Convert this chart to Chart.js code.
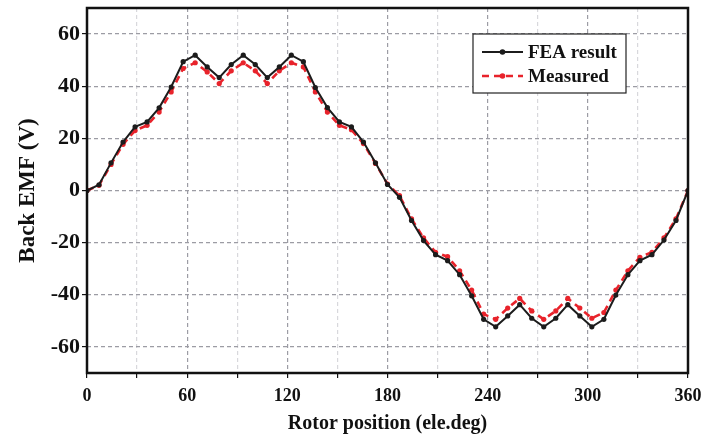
<!DOCTYPE html>
<html>
<head>
<meta charset="utf-8">
<script src="https://cdn.jsdelivr.net/npm/chart.js@4.4.1/dist/chart.umd.min.js"></script>
<style>
  body { margin: 0; background: #fff; }
</style>
</head>
<body>
<canvas id="emfChart" width="702" height="437"></canvas>
<script>
// rotor position, ele.deg
const rotorPos = [0, 7.2, 14.4, 21.6, 28.8, 36, 43.2, 50.4, 57.6, 64.8,
  72, 79.2, 86.4, 93.6, 100.8, 108, 115.2, 122.4, 129.6, 136.8,
  144, 151.2, 158.4, 165.6, 172.8, 180, 187.2, 194.4, 201.6, 208.8,
  216, 223.2, 230.4, 237.6, 244.8, 252, 259.2, 266.4, 273.6, 280.8,
  288, 295.2, 302.4, 309.6, 316.8, 324, 331.2, 338.4, 345.6, 352.8, 360];

// back EMF (V)
const feaResult = [0, 2.2, 10.6, 18.6, 24.4, 26.3, 31.7, 39.7, 49.4, 51.9,
  47.4, 43.3, 48.3, 51.9, 48.3, 43.3, 47.4, 51.9, 49.4, 39.5,
  31.8, 26.3, 24.4, 18.6, 10.6, 2.3, -2.6, -11.5, -19.2, -24.6,
  -26.9, -32.3, -40.4, -49.4, -52.3, -48.1, -43.8, -49.0, -52.3, -49.0,
  -43.8, -48.1, -52.3, -49.4, -40.1, -32.3, -26.9, -24.6, -19.0, -11.5, 0];

const measured = [0, 2.0, 10.0, 17.7, 23.0, 25.0, 30.1, 37.8, 46.8, 49.0,
  45.5, 41.0, 45.9, 49.0, 45.9, 41.0, 45.9, 49.0, 47.4, 37.8,
  30.1, 25.0, 23.3, 18.0, 10.4, 2.5, -2.0, -10.9, -18.2, -23.7,
  -25.4, -30.8, -38.2, -47.4, -49.4, -45.1, -41.4, -46.2, -49.4, -46.2,
  -41.4, -45.1, -49.0, -46.8, -38.2, -30.8, -25.6, -23.7, -18.2, -10.9, 0];

const xTicks = [0, 30, 60, 90, 120, 150, 180, 210, 240, 270, 300, 330, 360];
const xLabels = [0, 60, 120, 180, 240, 300, 360];
const yTicks = [-60, -40, -20, 0, 20, 40, 60];

const serif = "'Liberation Serif', 'Times New Roman', serif";
const black = "#1c1c1c";
const red = "#e8232b";

// frame round the plot area plus the boxed legend in the top right
const framePlugin = {
  id: "frame",
  afterDraw(chart) {
    const { ctx, chartArea: a } = chart;
    ctx.save();
    ctx.strokeStyle = "#111";
    ctx.lineWidth = 2.5;
    ctx.strokeRect(a.left, a.top, a.right - a.left, a.bottom - a.top);

    // legend
    const bx = a.right - 215, by = a.top + 26, bw = 153, bh = 59;
    ctx.fillStyle = "#fff";
    ctx.fillRect(bx, by, bw, bh);
    ctx.lineWidth = 1.2;
    ctx.strokeStyle = "#222";
    ctx.strokeRect(bx, by, bw, bh);

    ctx.font = "bold 19px " + serif;
    ctx.textBaseline = "middle";
    chart.data.datasets.forEach((ds, i) => {
      const y = by + 18 + i * 24;
      ctx.strokeStyle = ds.borderColor;
      ctx.lineWidth = ds.borderWidth;
      ctx.setLineDash(ds.borderDash || []);
      ctx.beginPath();
      ctx.moveTo(bx + 9, y);
      ctx.lineTo(bx + 50, y);
      ctx.stroke();
      ctx.setLineDash([]);
      ctx.fillStyle = ds.pointBackgroundColor;
      ctx.beginPath();
      ctx.arc(bx + 29.5, y, 2.8, 0, Math.PI * 2);
      ctx.fill();
      ctx.fillStyle = "#111";
      ctx.fillText(ds.label, bx + 55, y + 1);
    });
    ctx.restore();
  }
};

function makeChart() {
  const ctx = document.getElementById("emfChart").getContext("2d");

  new Chart(ctx, {
    type: "line",
    data: {
      datasets: [
        {
          label: "FEA result",
          data: rotorPos.map((x, i) => ({ x: x, y: feaResult[i] })),
          borderColor: black,
          borderWidth: 2,
          pointRadius: 2.6,
          pointBackgroundColor: black,
          pointBorderWidth: 0,
          tension: 0,
        },
        {
          label: "Measured",
          data: rotorPos.map((x, i) => ({ x: x, y: measured[i] })),
          borderColor: red,
          borderWidth: 2.6,
          borderDash: [7, 5],
          pointRadius: 2.6,
          pointBackgroundColor: red,
          pointBorderWidth: 0,
          tension: 0,
        },
      ],
    },
    options: {
      responsive: false,
      animation: false,
      layout: { padding: 0 },
      plugins: {
        legend: { display: false },
        tooltip: { enabled: false },
      },
      scales: {
        x: {
          type: "linear",
          min: 0,
          max: 360,
          afterBuildTicks: (s) => { s.ticks = xTicks.map((v) => ({ value: v })); },
          afterFit: (s) => { s.height = 64; s.paddingLeft = 0; s.paddingRight = 14; },
          grid: {
            color: (c) => (c.tick && c.tick.value % 60 === 0 ? "#9c9ca4" : "#d8d8dc"),
            lineWidth: 1.2,
            tickColor: "#111",
            tickLength: 5,
          },
          border: { display: false, dash: [4, 3] },
          ticks: {
            autoSkip: false,
            maxRotation: 0,
            padding: 8,
            color: "#111",
            font: { family: serif, size: 18, weight: "bold" },
            callback: (v) => (xLabels.includes(v) ? v : ""),
          },
          title: {
            display: true,
            text: "Rotor position (ele.deg)",
            color: "#111",
            font: { family: serif, size: 20, weight: "bold" },
            padding: { top: 2, bottom: 1 },
          },
        },
        y: {
          min: -70,
          max: 70,
          afterBuildTicks: (s) => { s.ticks = yTicks.map((v) => ({ value: v })); },
          afterFit: (s) => { s.width = 87; s.paddingTop = 8; s.paddingBottom = 0; },
          grid: {
            color: "#9c9ca4",
            lineWidth: 1.2,
            tickColor: "#111",
            tickLength: 5,
          },
          border: { display: false, dash: [4, 3] },
          ticks: {
            padding: 2,
            color: "#111",
            font: { family: serif, size: 22, weight: "bold" },
          },
          title: {
            display: true,
            text: "Back EMF (V)",
            color: "#111",
            font: { family: serif, size: 23, weight: "bold" },
            padding: { top: 14, bottom: 0 },
          },
        },
      },
    },
    plugins: [framePlugin],
  });
}

makeChart();
</script>
</body>
</html>
